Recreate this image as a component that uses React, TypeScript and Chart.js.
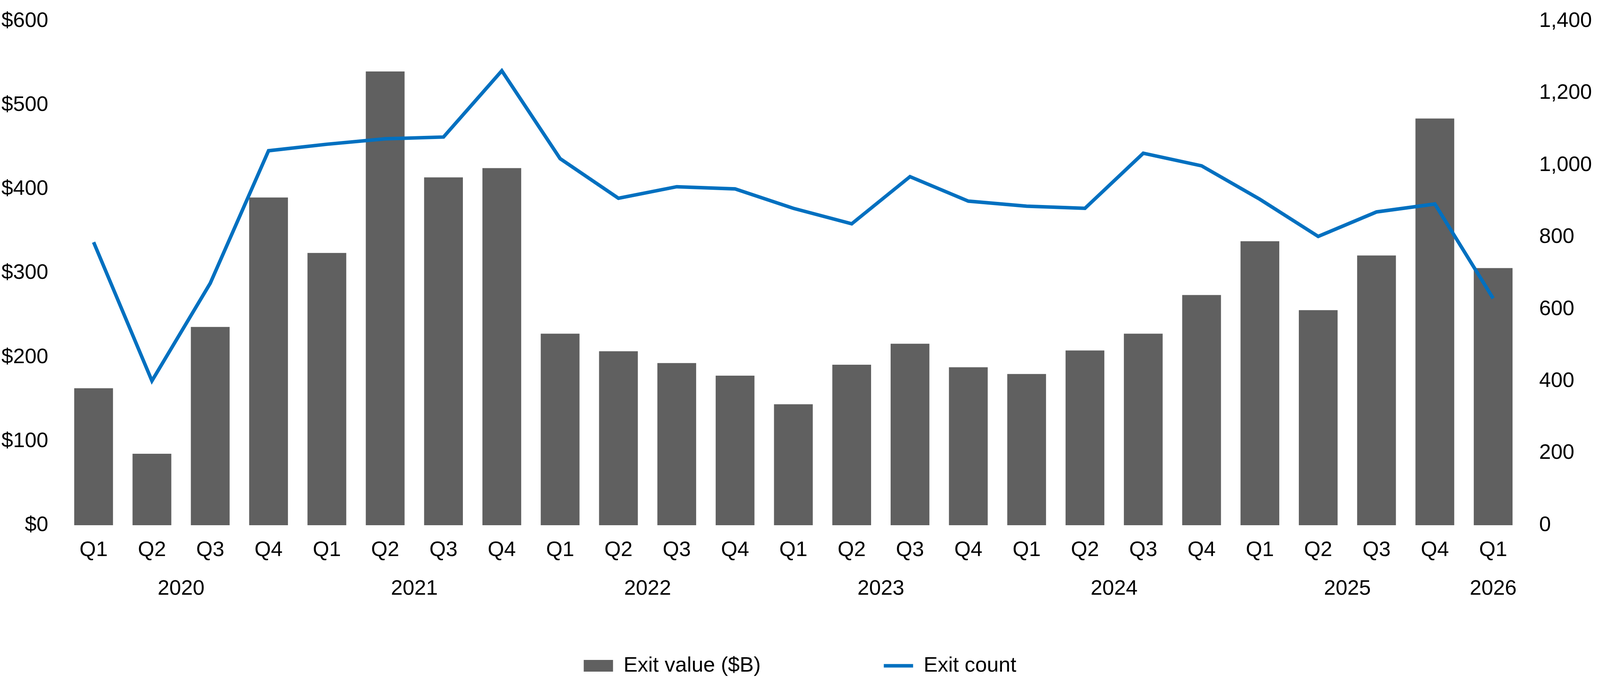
import { useEffect, useRef } from 'react';
import { Chart, registerables } from 'chart.js';

Chart.register(...registerables);

const quarters = [
  'Q1', 'Q2', 'Q3', 'Q4',
  'Q1', 'Q2', 'Q3', 'Q4',
  'Q1', 'Q2', 'Q3', 'Q4',
  'Q1', 'Q2', 'Q3', 'Q4',
  'Q1', 'Q2', 'Q3', 'Q4',
  'Q1', 'Q2', 'Q3', 'Q4',
  'Q1',
];
const years = ['2020', '2021', '2022', '2023', '2024', '2025', '2026'];
const quartersPerYear = [4, 4, 4, 4, 4, 4, 1];

// Exit value ($B)
const exitValue = [
  163, 85, 236, 390,
  324, 540, 414, 425,
  228, 207, 193, 178,
  144, 191, 216, 188,
  180, 208, 228, 274,
  338, 256, 321, 484,
  306,
];
// Exit count
const exitCount = [
  786, 401, 672, 1040,
  1058, 1073, 1078, 1262,
  1018, 908, 940, 934,
  880, 837, 968, 900,
  886, 880, 1033, 998,
  905, 802, 870, 892,
  630,
];

const FONT = '"Liberation Sans", Arial, Helvetica, sans-serif';
const BASE_WIDTH = 4943; // width the layout was measured at

// center index of each year group, for the second label row
const yearCenters: number[] = [];
{
  let start = 0;
  quartersPerYear.forEach((n) => {
    yearCenters.push(start + (n - 1) / 2);
    start += n;
  });
}

// keep the tick labels' own padding out of the layout, so the plot top/bottom stay put
const noVerticalPadding = (axis: any) => {
  axis.paddingTop = 0;
  axis.paddingBottom = 0;
};

const App = () => {
  const canvasRef = useRef<HTMLCanvasElement | null>(null);

  useEffect(() => {
    if (!canvasRef.current) return;
    const font = { family: FONT, size: 54 };
    // horizontal sizes follow the page width, vertical ones stay fixed
    const sx = (canvasRef.current.parentElement?.clientWidth || BASE_WIDTH) / BASE_WIDTH;
    const gapSpaces = Math.max(0, Math.round((382 * sx - 135) / 15));
    const leftPad = Math.max(36, 50 * sx);
    const leftWidth = Math.max(165, 177.5 * sx);

    const chart = new Chart(canvasRef.current, {
      type: 'bar',
      data: {
        labels: quarters,
        datasets: [
          {
            type: 'bar',
            label: 'Exit value ($B)' + ' '.repeat(gapSpaces),
            data: exitValue,
            backgroundColor: '#606060',
            borderWidth: 0,
            yAxisID: 'y',
            xAxisID: 'x',
            categoryPercentage: 1,
            barPercentage: 0.665,
            order: 1,
            pointStyle: 'rect',
          },
          {
            type: 'line',
            label: 'Exit count',
            data: exitCount,
            borderColor: '#0070C0',
            backgroundColor: '#0070C0',
            borderWidth: 9,
            pointRadius: 0,
            tension: 0,
            yAxisID: 'y1',
            xAxisID: 'x',
            order: 0,
            pointStyle: 'line',
          },
        ],
      },
      options: {
        animation: false,
        responsive: true,
        maintainAspectRatio: false,
        layout: { padding: { top: 54, bottom: 25, left: 0, right: 0 } },
        plugins: {
          tooltip: { enabled: false },
          legend: {
            position: 'bottom',
            labels: {
              font,
              color: '#000',
              usePointStyle: true,
              pointStyleWidth: Math.round(90 * sx),
              boxHeight: 30,
              padding: 135,
              sort: (a, b) => (a.datasetIndex ?? 0) - (b.datasetIndex ?? 0),
            },
          },
        },
        scales: {
          x: {
            type: 'category',
            position: 'bottom',
            weight: 0,
            grid: { display: false, drawTicks: false, tickLength: 0 },
            border: { display: false },
            ticks: { font, color: '#000', padding: 32, autoSkip: false, maxRotation: 0 },
            afterFit: (axis) => { axis.height = 99; },
          },
          xYear: {
            type: 'linear',
            position: 'bottom',
            weight: 1,
            offset: false,
            bounds: 'data',
            min: -0.5,
            max: quarters.length - 0.5,
            grid: { display: false, drawTicks: false, tickLength: 0, offset: false },
            border: { display: false },
            ticks: {
              font,
              color: '#000',
              padding: 32,
              autoSkip: false,
              maxRotation: 0,
              callback: (v) => {
                const i = yearCenters.indexOf(Number(v));
                return i >= 0 ? years[i] : '';
              },
            },
            afterBuildTicks: (axis) => {
              axis.ticks = yearCenters.map((value) => ({ value }));
            },
            afterFit: (axis) => { axis.height = 99; },
          },
          y: {
            type: 'linear',
            position: 'left',
            min: 0,
            max: 600,
            grid: { display: false, drawTicks: false, tickLength: 0 },
            border: { display: false },
            ticks: {
              font,
              color: '#000',
              padding: leftPad,
              stepSize: 100,
              callback: (v) => '$' + v,
            },
            afterFit: (axis) => {
              axis.width = leftWidth;
              noVerticalPadding(axis);
            },
          },
          y1: {
            type: 'linear',
            position: 'right',
            min: 0,
            max: 1400,
            grid: { display: false, drawTicks: false, tickLength: 0 },
            border: { display: false },
            ticks: {
              font,
              color: '#000',
              padding: 52 * sx,
              stepSize: 200,
              callback: (v) => Number(v).toLocaleString('en-US'),
            },
            afterFit: (axis) => {
              axis.width = 240 * sx;
              noVerticalPadding(axis);
            },
          },
        },
      },
    });

    return () => {
      chart.destroy();
    };
  }, []);

  return (
    <div style={{ position: 'fixed', top: 0, left: 0, width: '100vw', height: '100vh', background: '#fff' }}>
      <canvas ref={canvasRef} />
    </div>
  );
};

export default App;
